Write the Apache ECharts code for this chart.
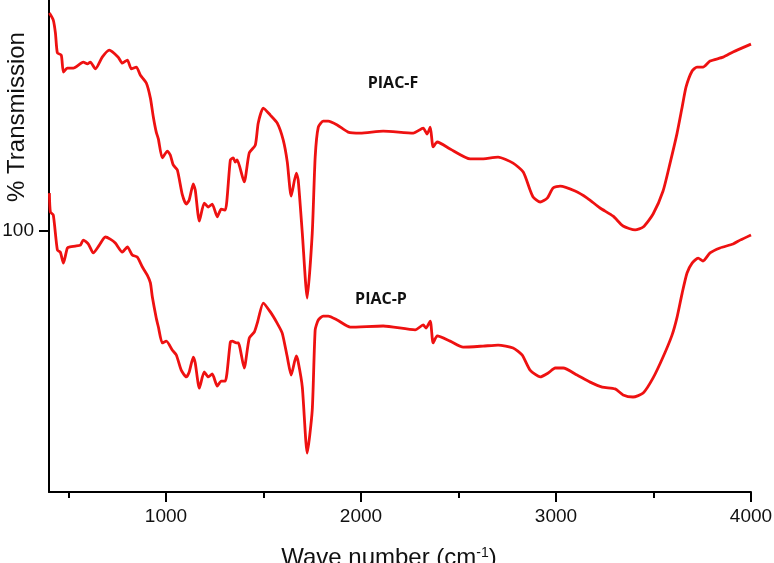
<!DOCTYPE html>
<html>
<head>
<meta charset="utf-8">
<style>
html,body{margin:0;padding:0;background:#fff;}
#chart{width:774px;height:563px;}
</style>
<script src="https://cdn.jsdelivr.net/npm/echarts@6/dist/echarts.min.js"></script>
</head>
<body>
<div id="chart"></div>
<script>
// PIAC-F (upper trace)
var wnF = [402,422,433,443,463,474,494,525,576,597,612,638,673,709,755,776,802,822,848,868,899,920,935,950,961,981,1007,1022,1037,1058,1084,1104,1119,1140,1150,1171,1196,1217,1237,1263,1283,1304,1330,1345,1355,1365,1401,1427,1458,1473,1499,1535,1570,1601,1622,1642,1668,1678,1699,1724,1750,1765,1781,1806,1832,1878,1934,1996,2114,2268,2319,2339,2355,2370,2391,2457,2560,2611,2703,2780,2832,2867,2883,2919,2955,2985,3021,3098,3160,3226,3293,3344,3406,3447,3498,3549,3585,3621,3647,3667,3698,3723,3754,3790,3857,3908,4000];
var tF = [183.5,180.8,175.8,168.2,167.4,160.9,162.4,162.4,164.7,164.0,164.7,162.1,166.6,169.3,166.6,164.3,165.5,162.1,162.8,159.8,156.7,150.9,143.7,137.9,135.2,128.0,130.6,129.1,125.3,123.4,113.8,110.3,111.9,118.0,115.7,103.8,110.7,109.2,110.3,105.4,108.4,108.0,127.2,128.0,126.4,127.2,118.8,129.9,132.9,141.4,147.1,144.4,141.4,134.9,126.4,113.4,122.2,119.5,99.2,74.3,99.2,128.3,139.8,142.1,142.1,140.6,137.9,137.5,138.3,137.5,139.4,137.1,139.8,132.2,134.1,131.4,127.6,127.6,128.3,126.0,122.6,115.7,113.0,111.1,112.6,116.5,117.2,115.3,112.6,108.8,105.7,101.9,100.4,101.5,106.5,115.3,126.0,137.5,147.5,155.2,161.3,162.8,162.8,165.1,166.6,168.6,171.6];

// PIAC-P (lower trace)
var wnP = [402,407,422,443,458,474,494,509,535,561,576,602,627,658,689,714,740,776,802,827,853,879,904,920,930,950,961,981,1002,1032,1053,1078,1104,1119,1140,1150,1171,1196,1217,1237,1263,1283,1304,1330,1340,1360,1371,1401,1427,1453,1468,1499,1535,1570,1596,1622,1642,1668,1678,1699,1724,1750,1765,1781,1806,1832,1878,1945,2114,2278,2319,2334,2355,2370,2391,2457,2524,2626,2703,2780,2826,2867,2919,2960,2996,3037,3108,3175,3237,3303,3344,3395,3447,3498,3549,3595,3621,3647,3672,3698,3729,3754,3790,3841,3908,3944,4000];
var tP = [114.5,107.3,106.1,92.7,91.9,87.7,93.5,93.9,94.2,94.6,96.5,95.0,91.6,94.6,97.7,96.9,95.4,91.9,93.9,90.8,90.0,86.2,83.1,80.1,74.7,66.7,63.2,57.1,57.8,54.4,52.5,46.7,44.1,46.0,51.7,49.4,39.8,46.0,44.1,45.2,40.6,42.5,42.5,57.5,57.8,57.1,57.1,47.5,59.0,61.3,64.7,72.4,69.0,64.7,60.9,51.7,44.8,52.1,49.8,40.2,14.9,31.4,62.1,65.9,67.4,67.4,65.9,63.2,63.6,62.1,64.0,62.8,65.5,57.1,59.8,57.8,55.5,55.9,56.3,55.2,52.5,46.7,44.1,45.6,47.5,47.5,44.8,42.1,40.2,39.5,37.2,36.4,37.9,43.7,51.7,60.1,67.0,76.2,83.9,87.7,89.6,88.5,91.6,93.5,95.0,96.5,98.5];

var xMajorTicks = [1000, 2000, 3000, 4000];
var xMinorTicks = [500, 1500, 2500, 3500];
var yTicks = [100];
var seriesNames = ['PIAC-F', 'PIAC-P'];

function pairs(xs, ys) { return xs.map(function (x, i) { return [x, ys[i]]; }); }
function plain(v) { return String(v); }

var FONT = "'Liberation Sans', Arial, sans-serif";
var chart = echarts.init(document.getElementById('chart'), null, {renderer: 'canvas'});
chart.setOption({
  backgroundColor: '#ffffff',
  animation: false,
  grid: {left: 49, right: 23, top: 0, bottom: 71, containLabel: false, outerBoundsMode: 'none'},
  xAxis: [{
    type: 'value', min: 400, max: 4000, position: 'bottom',
    name: 'Wave number (cm{sup|-1})',
    nameLocation: 'middle', nameGap: 54,
    nameTextStyle: {
      fontFamily: FONT, fontSize: 24, color: '#111', padding: [0, 22, 0, 0],
      rich: {sup: {fontFamily: FONT, fontSize: 14, color: '#111', verticalAlign: 'top', padding: [0, 0, 10, 0]}}
    },
    axisLine: {show: true, lineStyle: {color: '#000', width: 2}},
    axisTick: {show: true, length: 10, inside: false, lineStyle: {color: '#000', width: 2}, customValues: xMajorTicks},
    axisLabel: {show: true, fontFamily: FONT, fontSize: 19, color: '#111', margin: 15, customValues: xMajorTicks, formatter: plain},
    splitLine: {show: false}
  }, {
    type: 'value', min: 400, max: 4000, position: 'bottom', offset: 0,
    axisLine: {show: false},
    axisTick: {show: true, length: 6, lineStyle: {color: '#000', width: 2}, customValues: xMinorTicks},
    axisLabel: {show: false},
    splitLine: {show: false}
  }],
  yAxis: {
    type: 'value', min: 0, max: 188.5,
    axisLine: {show: true, lineStyle: {color: '#000', width: 2}},
    axisTick: {show: true, length: 10, lineStyle: {color: '#000', width: 2}, customValues: yTicks},
    axisLabel: {show: true, fontFamily: FONT, fontSize: 19, color: '#111', margin: 15, customValues: yTicks, formatter: plain},
    splitLine: {show: false}
  },
  graphic: [
    {type: 'text', x: 17, y: 117, rotation: Math.PI / 2,
     style: {text: '% Transmission', font: "24px 'Liberation Sans', Arial, sans-serif", fill: '#111', align: 'center', verticalAlign: 'middle'}},
    {type: 'text', x: 393, y: 83,
     style: {text: seriesNames[0], font: "bold 16px 'Open Sans', 'Noto Sans', sans-serif", fill: '#111', align: 'center', verticalAlign: 'middle'}},
    {type: 'text', x: 381, y: 299,
     style: {text: seriesNames[1], font: "bold 16px 'Open Sans', 'Noto Sans', sans-serif", fill: '#111', align: 'center', verticalAlign: 'middle'}}
  ],
  series: [
    {name: seriesNames[0], type: 'line', xAxisIndex: 0, data: pairs(wnF, tF), showSymbol: false, smooth: 0.2,
     lineStyle: {color: '#ee1111', width: 2.8}},
    {name: seriesNames[1], type: 'line', xAxisIndex: 0, data: pairs(wnP, tP), showSymbol: false, smooth: 0.2,
     lineStyle: {color: '#ee1111', width: 2.8}}
  ]
});
</script>
</body>
</html>
